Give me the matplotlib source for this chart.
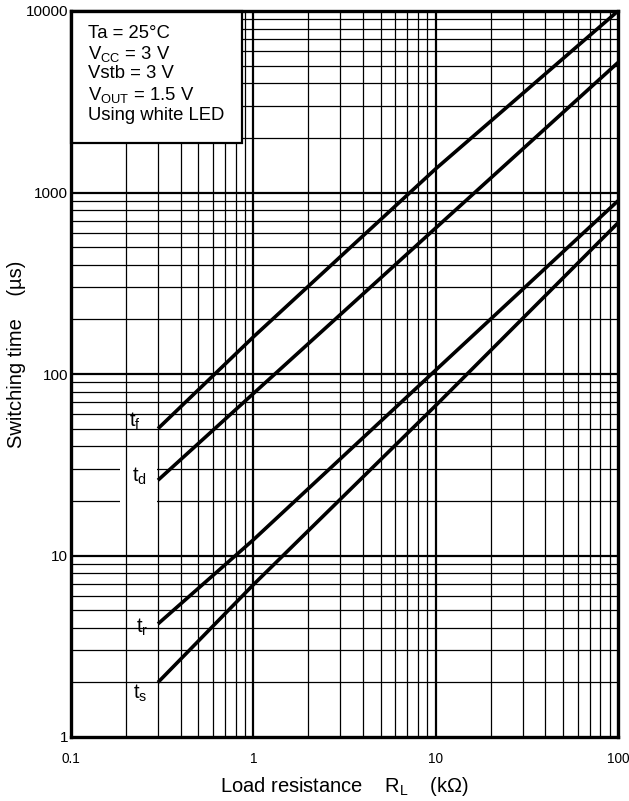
import matplotlib
matplotlib.use("Agg")
import matplotlib.pyplot as plt
from matplotlib.patches import Rectangle
import numpy as np

plt.rcParams['font.family'] = ['Liberation Sans', 'DejaVu Sans']
plt.rcParams['mathtext.fontset'] = 'custom'
plt.rcParams['mathtext.rm'] = 'Liberation Sans'
plt.rcParams['mathtext.it'] = 'Liberation Sans'

# ---- data ----
RL = [0.3, 1, 10, 100]          # load resistance, kOhm
t_f = [50, 160, 1350, 10000]    # fall time, us
t_d = [26, 78, 637, 5200]       # delay time, us
t_r = [4.2, 12.2, 105, 900]     # rise time, us
t_s = [2.0, 6.9, 67, 680]       # storage time, us

x_ticks = [0.1, 1, 10, 100]
x_ticklabels = ['0.1', '1', '10', '100']
y_ticks = [1, 10, 100, 1000, 10000]
y_ticklabels = ['1', '10', '100', '1000', '10000']

conditions = ['Ta = 25°C',
              r'V$_{\mathrm{CC}}$ = 3 V',
              'Vstb = 3 V',
              r'V$_{\mathrm{OUT}}$ = 1.5 V',
              'Using white LED']

W, H = 629, 801
fig = plt.figure(figsize=(W / 100, H / 100), dpi=100)
L, R, T, B = 71, 618, 11, 737
ax = fig.add_axes([L / W, 1 - B / H, (R - L) / W, (B - T) / H])
ax.set_xscale('log')
ax.set_yscale('log')
ax.set_xlim(0.1, 100)
ax.set_ylim(1, 10000)

# grid drawn by hand so a label mask can sit between horizontal and vertical lines
for dec in [1, 10, 100, 1000]:
    for m in range(1, 10):
        v = dec * m
        if v <= 1 or v >= 10000:
            continue
        ax.axhline(v, color='black', lw=1.6 if m == 1 else 0.9, zorder=1)
for dec in [0.1, 1, 10]:
    for m in range(1, 10):
        v = dec * m
        if v <= 0.1 or v >= 100:
            continue
        ax.axvline(v, color='black', lw=1.6 if m == 1 else 0.9, zorder=2)

# white mask behind the t_d label (covers horizontal grid only)
ax.add_patch(Rectangle((0.186, 12.2), 0.297 - 0.186, 36 - 12.2, transform=ax.transData,
                       facecolor='white', edgecolor='none', zorder=1.5))

for y in [t_f, t_d, t_r, t_s]:
    ax.plot(RL, y, color='black', lw=2.6, zorder=3, solid_capstyle='butt')

lab_kw = dict(fontsize=14.5, ha='left', va='center', zorder=4)
ax.text(0.208, 55, r't$_{\mathrm{f}}$', **lab_kw)
ax.text(0.216, 27.4, r't$_{\mathrm{d}}$', **lab_kw)
ax.text(0.226, 4.0, r't$_{\mathrm{r}}$', **lab_kw)
ax.text(0.218, 1.73, r't$_{\mathrm{s}}$', **lab_kw)

# conditions box
bx = (242 - L) / (R - L)
by = (B - 143) / (B - T)
ax.add_patch(Rectangle((0, by), bx, 1 - by, transform=ax.transAxes,
                       facecolor='white', edgecolor='black', lw=1.6, zorder=5, clip_on=False))
ys_px = [33, 54, 74, 95, 116]
for txt, yp in zip(conditions, ys_px):
    ax.text((88 - L) / (R - L), (B - yp) / (B - T), txt, transform=ax.transAxes,
            fontsize=13.3, ha='left', va='center', zorder=6)

ax.set_xticks(x_ticks)
ax.set_xticklabels(x_ticklabels)
ax.set_yticks(y_ticks)
ax.set_yticklabels(y_ticklabels)
ax.minorticks_off()
ax.tick_params(length=0)
ax.tick_params(axis='y', pad=2, labelsize=11)
ax.tick_params(axis='x', pad=11, labelsize=9.8)

for s in ax.spines.values():
    s.set_linewidth(2.4)
    s.set_zorder(7)

ax.set_xlabel(r'Load resistance    R$_{\mathrm{L}}$    (k$\Omega$)', fontsize=14.5, va='center')
ax.xaxis.set_label_coords(0.5, (B - 787) / (B - T))
ax.set_ylabel('Switching time    (µs)', fontsize=14.5, va='center')
ax.yaxis.set_label_coords((17 - L) / (R - L), (B - 354) / (B - T))

fig.savefig('out.png', dpi=100)
